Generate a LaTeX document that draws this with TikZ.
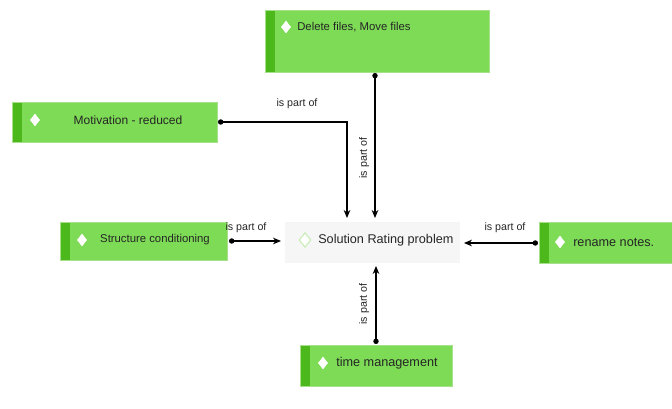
\documentclass[tikz,border=0pt]{standalone}
\usepackage{fontspec}
\setmainfont{Liberation Sans}
\usetikzlibrary{shapes.geometric,arrows.meta}
\definecolor{gfill}{HTML}{7DDB55}
\definecolor{gstripe}{HTML}{4CB81C}
\definecolor{gborder}{HTML}{A6E08A}
\definecolor{solfill}{HTML}{F6F6F6}
\definecolor{soldia}{HTML}{C8EDB4}
\begin{document}
\begin{tikzpicture}[x=0.75pt,y=-0.75pt,
  box/.style={draw=gborder, fill=gfill, line width=0.6pt, inner sep=0pt, outer sep=0pt, anchor=north west,
    path picture={\fill[gstripe] (path picture bounding box.north west) rectangle ([xshift=7.5pt]path picture bounding box.south west);}},
  solbox/.style={draw=solfill!80!gray!30, fill=solfill, line width=0.4pt, inner sep=0pt, outer sep=0pt, anchor=north west},
  wdia/.style={diamond, fill=white, draw=white, inner sep=0pt, minimum width=7pt, minimum height=9pt},
  sdia/.style={diamond, fill=white, draw=soldia, line width=0.8pt, inner sep=0pt, minimum width=9pt, minimum height=11pt},
  btext/.style={font=\fontsize{8.5}{9}\selectfont, text=black!85, inner sep=0pt},
  lbl/.style={font=\fontsize{8}{9}\selectfont, text=black!85, inner sep=1pt},
  conn/.style={line width=0.8pt, {Circle[length=4pt]}-{Stealth[length=6pt,width=5pt]}, shorten >=3pt}
]
\useasboundingbox (0,0) rectangle (672,409);
\fill[white] (0,0) rectangle (672,409);

% boxes
\node[box, minimum width=168pt, minimum height=46.5pt] (top) at (265,10) {};
\node[box, minimum width=153.75pt, minimum height=30pt] (mot) at (12,102) {};
\node[box, minimum width=125.25pt, minimum height=28.5pt] (str) at (60,222) {};
\node[solbox, minimum width=131pt, minimum height=30pt] (sol) at (285,222) {};
\node[box, minimum width=99.75pt, minimum height=30.75pt] (ren) at (539,222) {};
\node[box, minimum width=114pt, minimum height=30.75pt] (tim) at (300,345) {};

% diamonds and texts
\node[wdia] (dtop) at (286,27) {};
\node[btext, anchor=west] (ttop) at (297,27) {Delete files, Move files};
\node[wdia] (dmot) at (35,120) {};
\node[btext, font=\fontsize{9}{10}\selectfont] (tmot) at (128,120) {Motivation - reduced};
\node[wdia] (dstr) at (82,240) {};
\node[btext] (tstr) at (155,240) {Structure conditioning};
\node[sdia] (dsol) at (305,240) {};
\node[btext, font=\fontsize{9.5}{10}\selectfont, anchor=west] (tsol) at (318,240) {Solution Rating problem};
\node[wdia] (dren) at (560,242) {};
\node[btext, font=\fontsize{9.5}{10}\selectfont, anchor=west] (tren) at (573,242) {rename notes.};
\node[wdia] (dtim) at (323,363) {};
\node[btext, font=\fontsize{9.5}{10}\selectfont, anchor=west] (ttim) at (336,363) {time management};

% connectors
\coordinate (motE) at (218,122);
\coordinate (solA) at (347,222);
\draw[conn] (motE) -- (347,122) -- (solA);
\node[lbl] (l1) at (297,104) {is part of};

\coordinate (topB) at (375,73);
\coordinate (solB) at (375,222);
\draw[conn] (topB) -- (solB);
\node[lbl, rotate=90] (l2) at (364,158) {is part of};

\coordinate (strE) at (229,241);
\coordinate (solW) at (285,241);
\draw[conn] (strE) -- (solW);
\node[lbl] (l3) at (246,228) {is part of};

\coordinate (renW) at (538,243);
\coordinate (solE) at (460,243);
\draw[conn] (renW) -- (solE);
\node[lbl] (l4) at (505,228) {is part of};

\coordinate (timN) at (376,344);
\coordinate (solS) at (376,262);
\draw[conn] (timN) -- (solS);
\node[lbl, rotate=90] (l5) at (364,304) {is part of};
\end{tikzpicture}
\end{document}
